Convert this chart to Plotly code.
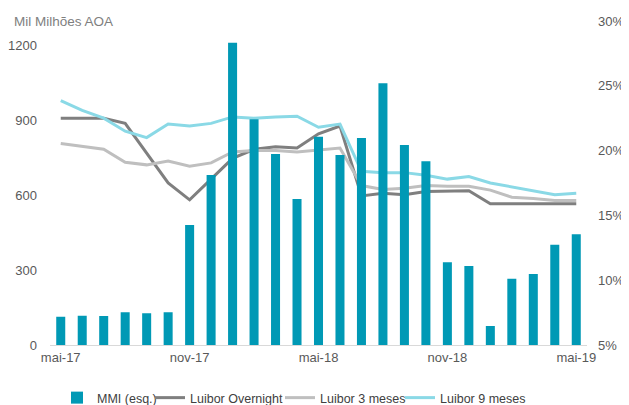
import plotly.graph_objects as go

months = [
    "mai-17", "jun-17", "jul-17", "ago-17", "set-17", "out-17", "nov-17",
    "dez-17", "jan-18", "fev-18", "mar-18", "abr-18", "mai-18", "jun-18",
    "jul-18", "ago-18", "set-18", "out-18", "nov-18", "dez-18", "jan-19",
    "fev-19", "mar-19", "abr-19", "mai-19",
]
# MMI, mil milhões AOA (left axis)
mmi = [113, 117, 116, 131, 127, 131, 480, 680, 1209, 903, 764, 584, 833,
       760, 828, 1047, 800, 735, 331, 316, 76, 265, 284, 401, 443]
# Luibor rates, % (right axis)
luibor_overnight = [22.5, 22.5, 22.5, 22.1, 19.8, 17.5, 16.2, 17.8, 19.4, 20.1,
                    20.3, 20.2, 21.3, 21.9, 16.5, 16.7, 16.6, 16.85, 16.85, 16.9,
                    15.9, 15.9, 15.9, 15.9, 15.9]
luibor_3m = [20.55, 20.3, 20.1, 19.1, 18.9, 19.2, 18.8, 19.05, 19.9, 20.0,
             20.0, 19.9, 20.05, 20.2, 17.3, 17.0, 17.1, 17.3, 17.25, 17.25,
             16.95, 16.4, 16.3, 16.15, 16.15]
luibor_9m = [23.85, 23.1, 22.5, 21.5, 21.0, 22.05, 21.9, 22.1, 22.6, 22.5,
             22.6, 22.65, 21.8, 22.05, 18.4, 18.3, 18.3, 18.1, 17.8, 18.0,
             17.5, 17.2, 16.95, 16.6, 16.7]
tick_months = months[::6]

FONT = "Liberation Sans, Arial, sans-serif"
# page gets an 8px body margin, so the figure is drawn 8px smaller
W, H = 621, 397

fig = go.Figure()
# lines on the primary (right-side) axis so the bars overlay them
fig.add_trace(go.Scatter(x=months, y=luibor_overnight, name="Luibor Overnight",
                         mode="lines", line=dict(color="#7f7f7f", width=3),
                         yaxis="y", legend="legend2"))
fig.add_trace(go.Scatter(x=months, y=luibor_3m, name="Luibor 3 meses",
                         mode="lines", line=dict(color="#bfbfbf", width=3),
                         yaxis="y", legend="legend3"))
fig.add_trace(go.Scatter(x=months, y=luibor_9m, name="Luibor 9 meses",
                         mode="lines", line=dict(color="#8ad9e6", width=3),
                         yaxis="y", legend="legend4"))
fig.add_trace(go.Bar(x=months, y=mmi, name="MMI (esq.)", marker_color="#0099b5",
                     marker_line_width=0, yaxis="y2", legend="legend"))


def legend_at(px):
    return dict(orientation="h", xref="container", yref="container",
                x=px / W, xanchor="left", y=7 / H, yanchor="middle",
                font=dict(size=12.5, color="#404040"), itemwidth=30,
                bgcolor="rgba(0,0,0,0)")


fig.update_layout(
    width=W, height=H,
    margin=dict(l=42, r=42, t=13, b=60, autoexpand=False),
    paper_bgcolor="white", plot_bgcolor="white",
    font=dict(family=FONT, size=13, color="#595959"),
    bargap=0.58,
    showlegend=True,
    legend=legend_at(49),
    legend2=legend_at(142),
    legend3=legend_at(272),
    legend4=legend_at(392),
    xaxis=dict(type="category", range=[-0.5, 24.5], tickvals=tick_months,
               ticktext=tick_months, showgrid=False, showline=True,
               linecolor="#d9d9d9", linewidth=1, ticks="", zeroline=False,
               automargin=False),
    yaxis=dict(side="right", range=[5, 30], tickvals=[5, 10, 15, 20, 25, 30],
               ticktext=["5%", "10%", "15%", "20%", "25%", "30%"],
               showgrid=False, zeroline=False, ticks="", ticklabelstandoff=10,
               automargin=False),
    yaxis2=dict(side="left", overlaying="y", range=[0, 1296],
                tickvals=[0, 300, 600, 900, 1200], showgrid=False,
                zeroline=False, ticks="", ticklabelstandoff=12, automargin=False),
    annotations=[dict(text="Mil Milhões AOA", xref="paper", yref="paper",
                      x=-0.071, y=0.997, xanchor="left", yanchor="middle",
                      showarrow=False, font=dict(size=13.5, color="#7f7f7f"))],
)

fig.write_html("out.html")
